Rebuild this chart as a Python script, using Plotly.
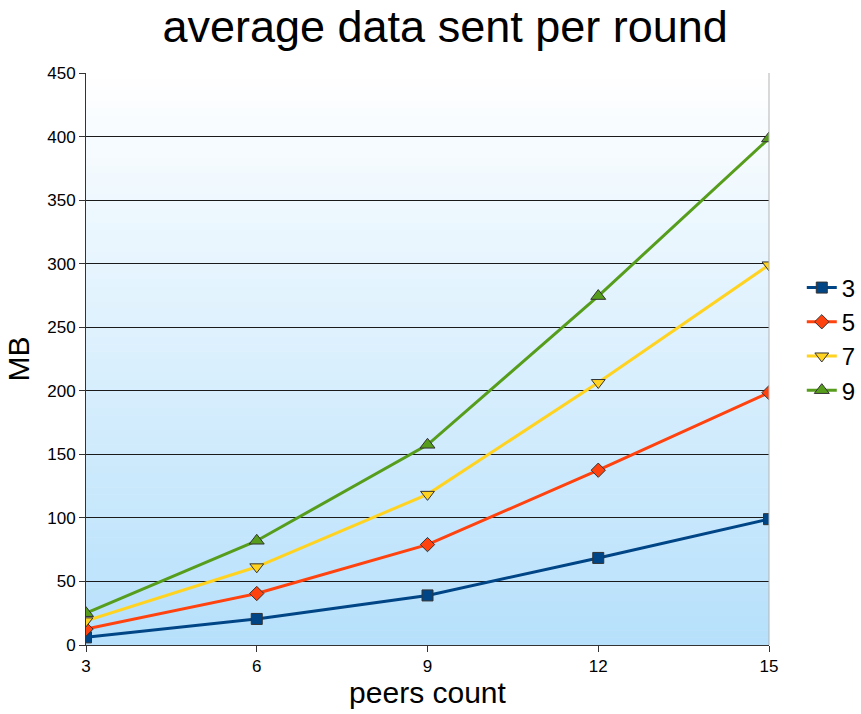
import plotly.graph_objects as go

# Peers count on the x axis
peers = [3, 6, 9, 12, 15]

# Average data sent per round (MB) for each group size
series_names = ["3", "5", "7", "9"]
mb_3 = [6, 20.5, 39, 68.5, 99]
mb_5 = [12.5, 40.5, 79, 137.5, 198.5]
mb_7 = [19, 61.5, 118.5, 206.5, 299]
mb_9 = [25, 82, 157.5, 274.5, 398.5]

y_ticks = [0, 50, 100, 150, 200, 250, 300, 350, 400, 450]

colors = ["#004586", "#ff420e", "#ffd320", "#579d1c"]
symbols = ["square", "diamond", "triangle-down", "triangle-up"]
sizes = [11, 11, 12, 13]

fig = go.Figure()

for name, vals, c, s, sz in zip(series_names, [mb_3, mb_5, mb_7, mb_9], colors, symbols, sizes):
    fig.add_trace(go.Scatter(
        x=peers, y=vals, name=name, mode="lines+markers",
        line=dict(color=c, width=3),
        marker=dict(symbol=s, size=sz, color=c, line=dict(color="#333333", width=1)),
    ))

# Vertical white-to-light-blue gradient behind the plot area
n = 80
top = (255, 255, 255)
bottom = (182, 224, 251)
shapes = []
for i in range(n):
    t = (i + 0.5) / n
    r = round(top[0] + (bottom[0] - top[0]) * t)
    g = round(top[1] + (bottom[1] - top[1]) * t)
    b = round(top[2] + (bottom[2] - top[2]) * t)
    shapes.append(dict(
        type="rect", xref="x domain", yref="y domain",
        x0=0, x1=1, y0=1 - (i + 1) / n, y1=1 - i / n + 0.001,
        fillcolor=f"rgb({r},{g},{b})", line=dict(width=0), layer="below",
    ))
# light right border of the plot area
shapes.append(dict(type="line", xref="x domain", yref="y domain",
                   x0=1, x1=1, y0=0, y1=1, line=dict(color="#b3b3b3", width=1)))

fig.update_layout(
    width=861, height=714,
    margin=dict(l=86, r=92, t=73, b=69, autoexpand=False),
    paper_bgcolor="white", plot_bgcolor="white",
    font=dict(family="Liberation Sans, Arial, sans-serif", color="#000000"),
    title=dict(text="average data sent per round", x=0.517, xanchor="center",
               y=0.963, yanchor="middle", font=dict(size=45)),
    shapes=shapes,
    showlegend=True,
    legend=dict(x=1.048, xanchor="left", y=0.535, yanchor="middle",
                font=dict(size=24), tracegroupgap=0, itemwidth=30,
                bgcolor="rgba(0,0,0,0)"),
    xaxis=dict(
        range=[3, 15], tickvals=peers, ticks="outside", ticklen=6,
        tickcolor="#333333", showgrid=False, zeroline=False,
        showline=True, linecolor="#333333", linewidth=1,
        tickfont=dict(size=17),
        title=dict(text="peers count", font=dict(size=30), standoff=6),
    ),
    yaxis=dict(
        range=[0, 450], tickvals=y_ticks, ticks="outside", ticklen=6,
        tickcolor="#333333", showgrid=True, gridcolor="#1a1a1a", gridwidth=1,
        zeroline=False, showline=True, linecolor="#333333", linewidth=1,
        tickfont=dict(size=17),
        title=dict(text="MB", font=dict(size=30), standoff=8),
    ),
)

fig.write_html("out.html")
